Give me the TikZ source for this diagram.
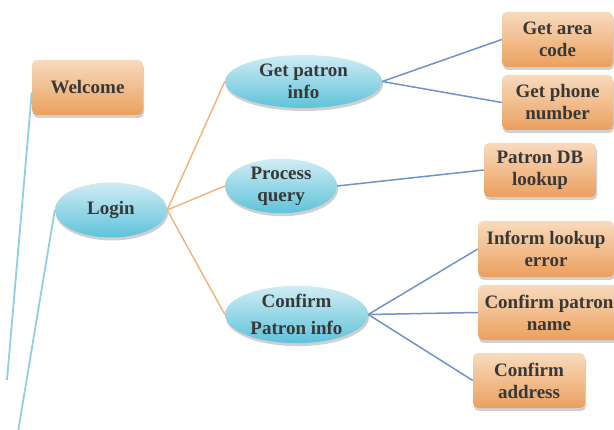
\documentclass[tikz,border=0pt]{standalone}
\usepackage{fontspec}
\setmainfont{Liberation Serif}
\usetikzlibrary{shapes.geometric,shadows}
\definecolor{boxtop}{HTML}{F8DABD}
\definecolor{boxbot}{HTML}{EBA05E}
\definecolor{elltop}{HTML}{D0ECF4}
\definecolor{ellbot}{HTML}{5EC3DA}
\definecolor{txt}{HTML}{383838}
\definecolor{orangeline}{HTML}{F4B57C}
\definecolor{blueline}{HTML}{7093CC}
\definecolor{cyanline}{HTML}{8DD0E1}
\begin{document}
\begin{tikzpicture}[x=1pt,y=-1pt,
  lbl/.style={inner sep=0pt, align=center, text=txt, font=\fontsize{19}{22}\selectfont\bfseries},
  box/.style={lbl, rectangle, rounded corners=5pt, top color=boxtop, bottom color=boxbot, draw=none,
    drop shadow={shadow xshift=1pt, shadow yshift=-3pt, opacity=0.3, fill=black!60}},
  ell/.style={lbl, ellipse, top color=elltop, bottom color=ellbot, draw=none,
    drop shadow={shadow xshift=1pt, shadow yshift=-3pt, opacity=0.3, fill=black!60}},
  oline/.style={draw=orangeline, line width=1.5pt},
  bline/.style={draw=blueline, line width=1.5pt},
  cline/.style={draw=cyanline, line width=1.8pt}
]
\useasboundingbox (0,0) rectangle (614,430);
\fill[white] (0,0) rectangle (614,430);

% left free ends
\coordinate (e1) at (7,380);
\coordinate (e2) at (18,432);

% nodes
\node[box, minimum width=111pt, minimum height=55pt] (welcome) at (87.5,87.5) {Welcome};
\node[ell, minimum width=112pt, minimum height=55pt] (login) at (111,210) {Login};
\node[ell, minimum width=157pt, minimum height=53pt] (gpi) at (303.5,81.5) {Get patron\\info};
\node[ell, minimum width=112pt, minimum height=54pt] (pq) at (281,186) {Process\\query};
\node[ell, minimum width=143pt, minimum height=55pt] (cpi) at (296.5,314.5) {Confirm\\[5pt]Patron info};

\node[box, minimum width=111pt, minimum height=55pt] (gac) at (557.5,39.5) {Get area\\code};
\node[box, minimum width=111pt, minimum height=55pt] (gpn) at (557.5,102.5) {Get phone\\number};
\node[box, minimum width=112pt, minimum height=54pt] (pdb) at (540,170) {Patron DB\\lookup};
\node[box, minimum width=136pt, minimum height=56pt] (ile) at (546,249) {Inform lookup\\error};
\node[box, minimum width=142pt, minimum height=55pt] (cpn) at (549,312.5) {Confirm patron\\name};
\node[box, minimum width=112pt, minimum height=55pt] (cad) at (529,380.5) {Confirm\\address};

% connectors
\draw[cline] ([yshift=-5pt]welcome.west) -- (e1);
\draw[cline] (login.west) -- (e2);

\draw[oline] (login.east) -- (gpi.west);
\draw[oline] (login.east) -- (pq.west);
\draw[oline] (login.east) -- (cpi.west);

\draw[bline] (gpi.east) -- (gac.west);
\draw[bline] (gpi.east) -- (gpn.west);
\draw[bline] (pq.east) -- (pdb.west);
\draw[bline] (cpi.east) -- (ile.west);
\draw[bline] (cpi.east) -- (cpn.west);
\draw[bline] (cpi.east) -- (cad.west);
\end{tikzpicture}
\end{document}
